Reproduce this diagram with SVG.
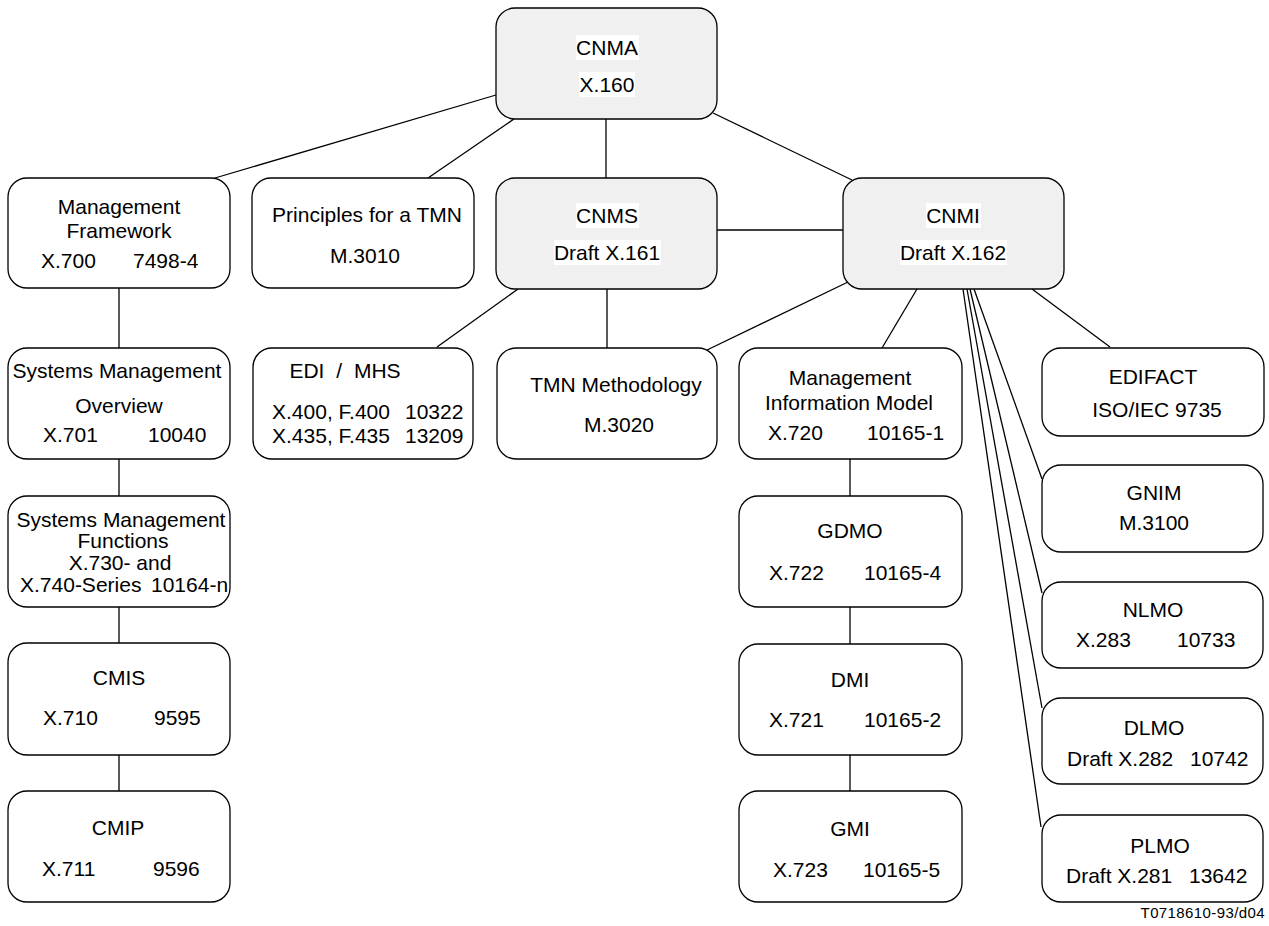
<svg xmlns="http://www.w3.org/2000/svg" width="1269" height="926" viewBox="0 0 1269 926">
  <style>
    .box { fill: #ffffff; stroke: #000000; stroke-width: 1.3; }
    .grey { fill: #f0f0f0; }
    .bg { fill: #ffffff; stroke: none; }
    .t { font-family: "Liberation Sans", Arial, sans-serif; font-size: 21px; fill: #000000; }
    .c { text-anchor: middle; }
    .fn { font-family: "Liberation Sans", Arial, sans-serif; font-size: 15px; fill: #000000; text-anchor: end; letter-spacing: 0.4px; }
    .ln { stroke: #000000; stroke-width: 1.3; fill: none; }
  </style>
  <rect x="0" y="0" width="1269" height="926" fill="#ffffff"/>

  <!-- connectors -->
  <g id="connectors" class="ln">
    <line x1="496" y1="95" x2="215" y2="178"/>
    <line x1="514" y1="119" x2="428" y2="178"/>
    <line x1="606" y1="119" x2="606" y2="178"/>
    <line x1="713" y1="113" x2="852" y2="180"/>
    <line x1="717" y1="230" x2="843" y2="230"/>
    <line x1="518" y1="289" x2="437" y2="347"/>
    <line x1="607" y1="289" x2="607" y2="348"/>
    <line x1="848" y1="282" x2="707" y2="350"/>
    <line x1="917" y1="289" x2="882" y2="348"/>
    <line x1="1032" y1="289" x2="1110" y2="347"/>
    <line x1="974" y1="289" x2="1042" y2="479"/>
    <line x1="970" y1="289" x2="1042" y2="593"/>
    <line x1="967" y1="289" x2="1042" y2="708"/>
    <line x1="963" y1="289" x2="1041" y2="827"/>
    <line x1="119" y1="288" x2="119" y2="348"/>
    <line x1="119" y1="459" x2="119" y2="496"/>
    <line x1="119" y1="607" x2="119" y2="643"/>
    <line x1="119" y1="755" x2="119" y2="791"/>
    <line x1="850" y1="459" x2="850" y2="496"/>
    <line x1="850" y1="607" x2="850" y2="644"/>
    <line x1="850" y1="755" x2="850" y2="791"/>
  </g>

  <!-- top level -->
  <g id="cnma">
    <rect class="box grey" x="496" y="8" width="221" height="111" rx="19"/>
    <rect class="bg" x="576" y="35" width="63" height="25"/>
    <rect class="bg" x="579" y="72" width="56" height="25"/>
    <text class="t c" x="607" y="55">CNMA</text>
    <text class="t c" x="607" y="92">X.160</text>
  </g>

  <!-- second level -->
  <g id="mgmt-framework">
    <rect class="box" x="8" y="178" width="222" height="110" rx="19"/>
    <text class="t c" x="119" y="214">Management</text>
    <text class="t c" x="119" y="238">Framework</text>
    <text class="t" x="41" y="268">X.700</text>
    <text class="t" x="133" y="268">7498-4</text>
  </g>
  <g id="principles-tmn">
    <rect class="box" x="252" y="178" width="222" height="110" rx="19"/>
    <text class="t c" x="367" y="222">Principles for a TMN</text>
    <text class="t c" x="365" y="263">M.3010</text>
  </g>
  <g id="cnms">
    <rect class="box grey" x="496" y="178" width="221" height="111" rx="19"/>
    <rect class="bg" x="576" y="203" width="63" height="25"/>
    <rect class="bg" x="554" y="240" width="107" height="25"/>
    <text class="t c" x="607" y="223">CNMS</text>
    <text class="t c" x="607" y="260">Draft X.161</text>
  </g>
  <g id="cnmi">
    <rect class="box grey" x="843" y="178" width="221" height="111" rx="19"/>
    <rect class="bg" x="926" y="203" width="55" height="25"/>
    <rect class="bg" x="900" y="240" width="107" height="25"/>
    <text class="t c" x="953" y="223">CNMI</text>
    <text class="t c" x="953" y="260">Draft X.162</text>
  </g>

  <!-- third level -->
  <g id="sm-overview">
    <rect class="box" x="8" y="348" width="222" height="111" rx="19"/>
    <text class="t c" x="117" y="378">Systems Management</text>
    <text class="t c" x="119" y="413">Overview</text>
    <text class="t" x="43" y="442">X.701</text>
    <text class="t" x="148" y="442">10040</text>
  </g>
  <g id="edi-mhs">
    <rect class="box" x="253" y="348" width="220" height="111" rx="19"/>
    <text class="t c" x="345" y="378" word-spacing="6">EDI / MHS</text>
    <text class="t" x="272" y="419">X.400, F.400</text>
    <text class="t" x="405" y="419">10322</text>
    <text class="t" x="272" y="443">X.435, F.435</text>
    <text class="t" x="405" y="443">13209</text>
  </g>
  <g id="tmn-methodology">
    <rect class="box" x="497" y="348" width="220" height="111" rx="19"/>
    <text class="t c" x="616" y="392">TMN Methodology</text>
    <text class="t c" x="619" y="432">M.3020</text>
  </g>
  <g id="mim">
    <rect class="box" x="739" y="348" width="223" height="111" rx="19"/>
    <text class="t c" x="850" y="385">Management</text>
    <text class="t c" x="849" y="410">Information Model</text>
    <text class="t" x="768" y="440">X.720</text>
    <text class="t" x="867" y="440">10165-1</text>
  </g>
  <g id="edifact">
    <rect class="box" x="1042" y="348" width="222" height="88" rx="19"/>
    <text class="t c" x="1153" y="384">EDIFACT</text>
    <text class="t c" x="1157" y="417">ISO/IEC 9735</text>
  </g>

  <!-- left column -->
  <g id="sm-functions">
    <rect class="box" x="8" y="496" width="222" height="111" rx="19"/>
    <text class="t c" x="121" y="527">Systems Management</text>
    <text class="t c" x="123" y="548">Functions</text>
    <text class="t c" x="120" y="570">X.730- and</text>
    <text class="t" x="20" y="592">X.740-Series</text>
    <text class="t" x="151" y="592">10164-n</text>
  </g>
  <g id="cmis">
    <rect class="box" x="8" y="643" width="222" height="112" rx="19"/>
    <text class="t c" x="119" y="685">CMIS</text>
    <text class="t" x="43" y="725">X.710</text>
    <text class="t" x="154" y="725">9595</text>
  </g>
  <g id="cmip">
    <rect class="box" x="8" y="791" width="222" height="111" rx="19"/>
    <text class="t c" x="118" y="835">CMIP</text>
    <text class="t" x="42" y="876">X.711</text>
    <text class="t" x="153" y="876">9596</text>
  </g>

  <!-- management information column -->
  <g id="gdmo">
    <rect class="box" x="739" y="496" width="223" height="111" rx="19"/>
    <text class="t c" x="850" y="538">GDMO</text>
    <text class="t" x="769" y="580">X.722</text>
    <text class="t" x="864" y="580">10165-4</text>
  </g>
  <g id="dmi">
    <rect class="box" x="739" y="644" width="223" height="111" rx="19"/>
    <text class="t c" x="850" y="687">DMI</text>
    <text class="t" x="769" y="727">X.721</text>
    <text class="t" x="864" y="727">10165-2</text>
  </g>
  <g id="gmi">
    <rect class="box" x="739" y="791" width="223" height="111" rx="19"/>
    <text class="t c" x="850" y="836">GMI</text>
    <text class="t" x="773" y="877">X.723</text>
    <text class="t" x="863" y="877">10165-5</text>
  </g>

  <!-- managed object libraries -->
  <g id="gnim">
    <rect class="box" x="1042" y="465" width="221" height="87" rx="19"/>
    <text class="t c" x="1154" y="500">GNIM</text>
    <text class="t c" x="1154" y="530">M.3100</text>
  </g>
  <g id="nlmo">
    <rect class="box" x="1042" y="582" width="221" height="86" rx="19"/>
    <text class="t c" x="1153" y="617">NLMO</text>
    <text class="t" x="1076" y="647">X.283</text>
    <text class="t" x="1177" y="647">10733</text>
  </g>
  <g id="dlmo">
    <rect class="box" x="1042" y="698" width="221" height="86" rx="19"/>
    <text class="t c" x="1154" y="735">DLMO</text>
    <text class="t" x="1067" y="766">Draft X.282</text>
    <text class="t" x="1190" y="766">10742</text>
  </g>
  <g id="plmo">
    <rect class="box" x="1042" y="815" width="221" height="87" rx="19"/>
    <text class="t c" x="1160" y="853">PLMO</text>
    <text class="t" x="1066" y="883">Draft X.281</text>
    <text class="t" x="1189" y="883">13642</text>
  </g>

  <text class="fn" x="1265" y="918">T0718610-93/d04</text>
</svg>
